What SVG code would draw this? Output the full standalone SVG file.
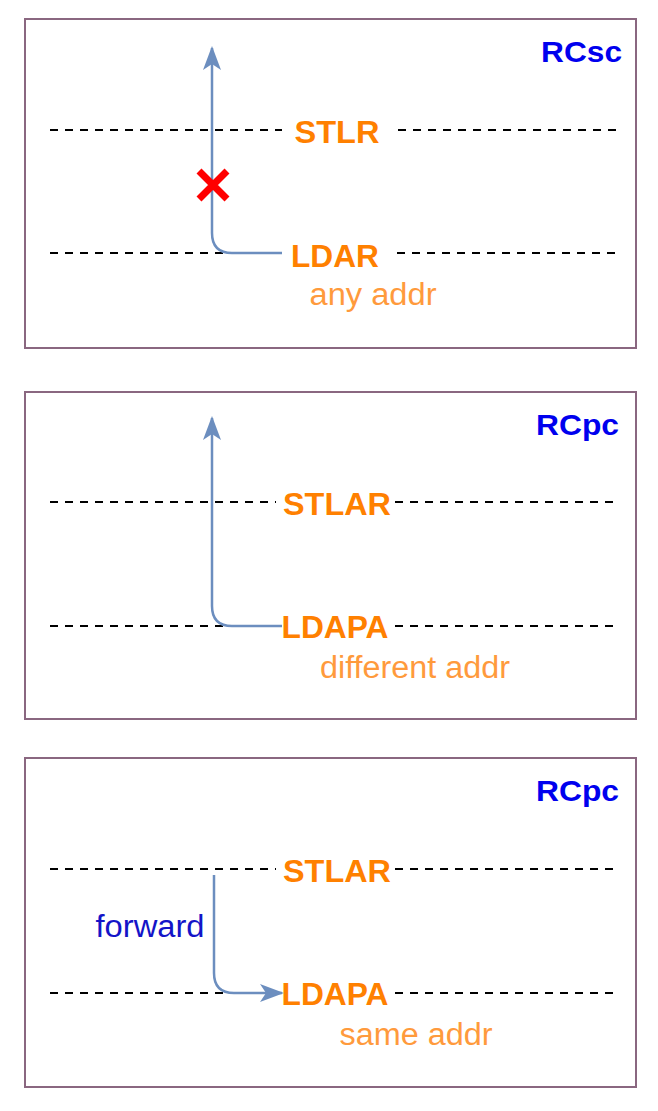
<svg xmlns="http://www.w3.org/2000/svg" width="658" height="1111" viewBox="0 0 658 1111">
<style>
.box{fill:#fff;stroke:#8a6780;stroke-width:2}
.dash{stroke:#000;stroke-width:2;stroke-dasharray:8 7;fill:none}
.op{font-family:"Liberation Sans",Arial,sans-serif;font-weight:bold;font-size:31px;fill:#ff8000;text-anchor:middle}
.addr{font-family:"Liberation Sans",Arial,sans-serif;font-size:31px;fill:#ff9a3c;text-anchor:middle}
.model{font-family:"Liberation Sans",Arial,sans-serif;font-weight:bold;font-size:30px;fill:#0000ee;text-anchor:end}
.conn{stroke:#6c8ebf;stroke-width:2.5;fill:none}
</style>
<defs>
<marker id="ah" markerWidth="24" markerHeight="20" viewBox="0 0 24 20" refX="22" refY="10" orient="auto" markerUnits="userSpaceOnUse">
<path d="M0,1 L24,10 L0,19 L6,10 Z" fill="#6c8ebf"/>
</marker>
</defs>
<g id="panel1">
<rect class="box" x="25" y="19" width="611" height="329"/>
<text class="model" x="622" y="62" textLength="81" lengthAdjust="spacingAndGlyphs">RCsc</text>
<line class="dash" x1="50" y1="130" x2="282" y2="130"/>
<line class="dash" x1="398" y1="130" x2="620" y2="130"/>
<line class="dash" x1="50" y1="253" x2="282" y2="253"/>
<line class="dash" x1="397" y1="253" x2="620" y2="253"/>
<text class="op" x="337" y="143" textLength="85" lengthAdjust="spacingAndGlyphs">STLR</text>
<text class="op" x="335" y="267" textLength="88" lengthAdjust="spacingAndGlyphs">LDAR</text>
<text class="addr" x="373" y="305" textLength="127" lengthAdjust="spacingAndGlyphs">any addr</text>
</g>
<g id="panel2">
<rect class="box" x="25" y="392" width="611" height="327"/>
<text class="model" x="619" y="435" textLength="83" lengthAdjust="spacingAndGlyphs">RCpc</text>
<line class="dash" x1="50" y1="502" x2="276" y2="502"/>
<line class="dash" x1="395" y1="502" x2="620" y2="502"/>
<line class="dash" x1="50" y1="626" x2="276" y2="626"/>
<line class="dash" x1="395" y1="626" x2="620" y2="626"/>
<text class="op" x="337" y="515" textLength="108" lengthAdjust="spacingAndGlyphs">STLAR</text>
<text class="op" x="335" y="638" textLength="107" lengthAdjust="spacingAndGlyphs">LDAPA</text>
<text class="addr" x="415" y="678" textLength="190" lengthAdjust="spacingAndGlyphs">different addr</text>
</g>
<g id="panel3">
<rect class="box" x="25" y="758" width="611" height="329"/>
<text class="model" x="619" y="801" textLength="83" lengthAdjust="spacingAndGlyphs">RCpc</text>
<line class="dash" x1="50" y1="869" x2="276" y2="869"/>
<line class="dash" x1="395" y1="869" x2="620" y2="869"/>
<line class="dash" x1="50" y1="993" x2="276" y2="993"/>
<line class="dash" x1="395" y1="993" x2="620" y2="993"/>
<text class="op" x="337" y="882" textLength="108" lengthAdjust="spacingAndGlyphs">STLAR</text>
<text class="op" x="335" y="1005" textLength="107" lengthAdjust="spacingAndGlyphs">LDAPA</text>
<text class="addr" x="416" y="1045" textLength="153" lengthAdjust="spacingAndGlyphs">same addr</text>
<text x="150" y="937" font-family="Liberation Sans,Arial,sans-serif" font-size="31" fill="#1414c8" text-anchor="middle" textLength="109" lengthAdjust="spacingAndGlyphs">forward</text>
</g>
<g id="connectors">
<path class="conn" d="M282,253 L232,253 Q212,253 212,233 L212,48" marker-end="url(#ah)"/>
<path class="conn" d="M282,626 L232,626 Q212,626 212,606 L212,418" marker-end="url(#ah)"/>
<path class="conn" d="M214,875 L214,973 Q214,993 234,993 L282,993" marker-end="url(#ah)"/>
<path d="M199,171 L227,199 M227,171 L199,199" stroke="#ff0000" stroke-width="7" fill="none"/>
</g>
</svg>
